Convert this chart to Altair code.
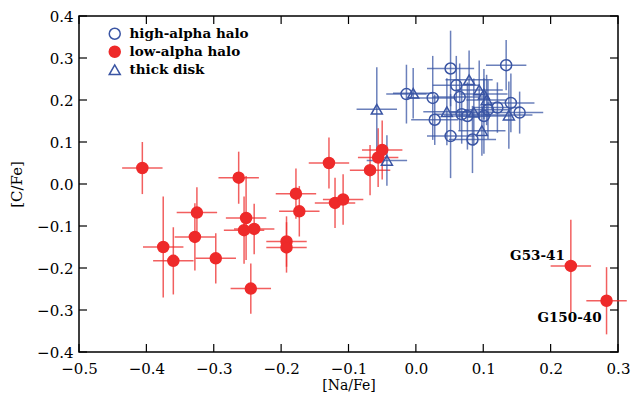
import altair as alt
import pandas as pd

BLUE = "#3A55A4"
RED = "#EE2A2A"
groups = ["high-alpha halo", "low-alpha halo", "thick disk"]

# low-alpha halo (filled red circles)
red_x = [-0.406, -0.263, -0.325, -0.252, -0.328, -0.255, -0.240, -0.375, -0.360, -0.297, -0.245,
         -0.129, -0.178, -0.173, -0.120, -0.108, -0.192, -0.192, -0.068, -0.056, -0.050, 0.230, 0.283]
red_y = [0.038, 0.015, -0.068, -0.081, -0.126, -0.110, -0.107, -0.150, -0.183, -0.177, -0.249,
         0.050, -0.023, -0.065, -0.045, -0.037, -0.137, -0.151, 0.033, 0.063, 0.081, -0.195, -0.278]
red_xerr = [0.03] * 23
red_yerr = [0.062, 0.062, 0.06, 0.10, 0.08, 0.08, 0.06, 0.12, 0.08, 0.06, 0.06,
            0.061, 0.06, 0.06, 0.06, 0.06, 0.06, 0.06, 0.06, 0.07, 0.07, 0.11, 0.08]

# high-alpha halo (open blue circles)
hi_x = [0.0515, 0.134, -0.014, 0.025, 0.060, 0.065, 0.028, 0.0515, 0.068, 0.0765, 0.101, 0.107,
        0.121, 0.141, 0.154, 0.084]
hi_y = [0.275, 0.283, 0.214, 0.205, 0.235, 0.207, 0.153, 0.114, 0.166, 0.162, 0.162, 0.177,
        0.182, 0.193, 0.170, 0.106]
hi_xerr = [0.035, 0.03, 0.03, 0.035, 0.035, 0.04, 0.035, 0.035, 0.04, 0.035, 0.04, 0.035,
           0.035, 0.035, 0.035, 0.035]
hi_yerr = [0.09, 0.06, 0.07, 0.10, 0.07, 0.08, 0.06, 0.10, 0.07, 0.08, 0.09, 0.07,
           0.06, 0.07, 0.05, 0.08]

# thick disk (open blue triangles)
td_x = [-0.058, -0.004, 0.079, 0.094, 0.101, 0.105, 0.046, 0.086, 0.138, 0.098, -0.043]
td_y = [0.178, 0.216, 0.248, 0.224, 0.214, 0.200, 0.172, 0.171, 0.164, 0.127, 0.056]
td_xerr = [0.03, 0.03, 0.035, 0.035, 0.035, 0.03, 0.035, 0.035, 0.035, 0.035, 0.03]
td_yerr = [0.10, 0.06, 0.07, 0.07, 0.06, 0.06, 0.08, 0.08, 0.08, 0.06, 0.06]

x_ticks = [-0.5, -0.4, -0.3, -0.2, -0.1, 0.0, 0.1, 0.2, 0.3]
y_ticks = [-0.4, -0.3, -0.2, -0.1, 0.0, 0.1, 0.2, 0.3, 0.4]

ann_names = ["G53-41", "G150-40"]

rows = []
for g, xs_, ys_, xe, ye in [("low-alpha halo", red_x, red_y, red_xerr, red_yerr),
                            ("high-alpha halo", hi_x, hi_y, hi_xerr, hi_yerr),
                            ("thick disk", td_x, td_y, td_xerr, td_yerr)]:
    for a, b, c, d in zip(xs_, ys_, xe, ye):
        rows.append({"group": g, "x": a, "y": b, "x1": a - c, "x2": a + c, "y1": b - d, "y2": b + d})
df = pd.DataFrame(rows)

W, H = 539, 336
FONT = "DejaVu Serif"
xs = alt.Scale(domain=[-0.5, 0.3], nice=False, zero=False)
ys = alt.Scale(domain=[-0.4, 0.4], nice=False, zero=False)
col = alt.Scale(domain=groups, range=[BLUE, RED, BLUE])

base = alt.Chart(df)
xaxis = alt.Axis(values=x_ticks, format=".1f", labelPadding=9, titlePadding=2, labelFlush=False,
                 titleFontSize=14)
yaxis = alt.Axis(values=y_ticks, format=".1f", labelPadding=6, titlePadding=12, labelFlush=False)

XT = "[Na/Fe]"
YT = "[C/Fe]"


def bars(is_red, color, first=False):
    sub = base.transform_filter(
        (alt.datum.group == "low-alpha halo") if is_red else (alt.datum.group != "low-alpha halo"))
    h = sub.mark_rule(strokeWidth=1.5, opacity=0.75, color=color).encode(
        x=alt.X("x1:Q", scale=xs, axis=xaxis if first else alt.Undefined, title=XT), x2="x2:Q",
        y=alt.Y("y:Q", scale=ys, axis=yaxis if first else alt.Undefined, title=YT))
    v = sub.mark_rule(strokeWidth=1.5, opacity=0.75, color=color).encode(
        x=alt.X("x:Q", scale=xs, title=XT),
        y=alt.Y("y1:Q", scale=ys, title=YT), y2="y2:Q")
    return [h, v]


leg = alt.Legend(orient="none", legendX=29, legendY=11, title=None, padding=0, rowPadding=0,
                 labelFont=FONT, labelFontSize=13.5, labelFontWeight="bold", labelColor="black",
                 symbolSize=121, symbolStrokeWidth=1.5, labelOffset=8)

pts = base.mark_point(filled=True, size=121, strokeWidth=1.5, opacity=1).encode(
    x=alt.X("x:Q", scale=xs, title=XT),
    y=alt.Y("y:Q", scale=ys, title=YT),
    shape=alt.Shape("group:N", scale=alt.Scale(domain=groups, range=["circle", "circle", "triangle-up"]),
                    legend=leg),
    stroke=alt.Stroke("group:N", scale=col, legend=leg),
    fill=alt.Fill("group:N", scale=alt.Scale(domain=groups, range=["transparent", RED, "transparent"]),
                  legend=leg),
)

ann1 = alt.Chart(pd.DataFrame({"x": [red_x[21]], "y": [red_y[21]], "t": [ann_names[0]]})).mark_text(
    align="right", baseline="middle", dx=-6, dy=-10, font=FONT, fontSize=13.5, fontWeight="bold",
    color="black"
).encode(x=alt.X("x:Q", scale=xs, title=XT), y=alt.Y("y:Q", scale=ys, title=YT), text="t:N")
ann2 = alt.Chart(pd.DataFrame({"x": [red_x[22]], "y": [red_y[22]], "t": [ann_names[1]]})).mark_text(
    align="right", baseline="middle", dx=-5, dy=17, font=FONT, fontSize=13.5, fontWeight="bold",
    color="black"
).encode(x=alt.X("x:Q", scale=xs, title=XT), y=alt.Y("y:Q", scale=ys, title=YT), text="t:N")

xt = alt.Chart(pd.DataFrame({"x": x_ticks}))
yt = alt.Chart(pd.DataFrame({"y": y_ticks}))
tick_bot = xt.mark_rule(color="black", strokeWidth=1.2).encode(
    x=alt.X("x:Q", scale=xs, title=XT), y=alt.value(H), y2=alt.value(H - 8))
tick_top = xt.mark_rule(color="black", strokeWidth=1.2).encode(
    x=alt.X("x:Q", scale=xs, title=XT), y=alt.value(0), y2=alt.value(8))
tick_left = yt.mark_rule(color="black", strokeWidth=1.2).encode(
    y=alt.Y("y:Q", scale=ys, title=YT), x=alt.value(0), x2=alt.value(8))
tick_right = yt.mark_rule(color="black", strokeWidth=1.2).encode(
    y=alt.Y("y:Q", scale=ys, title=YT), x=alt.value(W), x2=alt.value(W - 8))

layers = bars(True, RED, first=True) + bars(False, BLUE) + [pts, ann1, ann2, tick_bot, tick_top,
                                                           tick_left, tick_right]
chart = alt.layer(*layers).properties(
    width=W, height=H,
    autosize=alt.AutoSizeParams(type="none"),
    padding={"left": 71, "top": 8, "right": 13, "bottom": 46},
).configure_view(stroke="black", strokeWidth=1.5).configure_axis(
    domain=False, ticks=False, grid=False,
    labelFont=FONT, labelFontSize=15, labelColor="black",
    titleFont=FONT, titleFontSize=15, titleFontWeight="normal", titleColor="black",
)

chart.save("out.html", embed_options={"renderer": "svg", "actions": False})
